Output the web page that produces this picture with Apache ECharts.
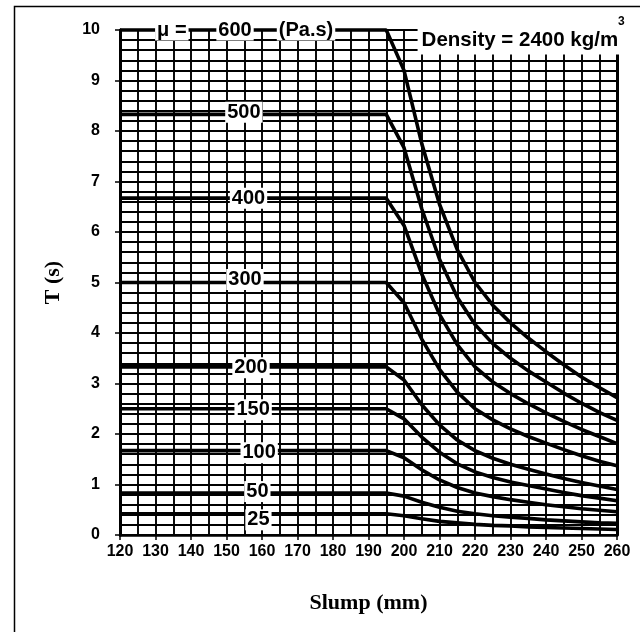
<!DOCTYPE html>
<html>
<head>
<meta charset="utf-8">
<script src="https://cdn.jsdelivr.net/npm/echarts@6/dist/echarts.min.js"></script>
<style>html,body{margin:0;padding:0;background:#fff;}#c{width:640px;height:632px;}</style>
</head>
<body>
<div id="c"></div>
<script>
// Slump (mm) sample points
const slump = [120, 195, 200, 205, 210, 215, 220, 225, 230, 235, 240, 245, 250, 255, 260];
// T (s) for each viscosity mu (Pa.s)
const mu600 = [10, 10, 9.2, 7.75, 6.55, 5.65, 5.0, 4.55, 4.2, 3.9, 3.63, 3.37, 3.13, 2.92, 2.72];
const mu500 = [8.33, 8.33, 7.67, 6.46, 5.46, 4.71, 4.17, 3.79, 3.5, 3.25, 3.03, 2.81, 2.61, 2.43, 2.27];
const mu400 = [6.67, 6.67, 6.13, 5.17, 4.37, 3.77, 3.33, 3.03, 2.8, 2.6, 2.42, 2.25, 2.09, 1.95, 1.81];
const mu300 = [5, 5, 4.6, 3.88, 3.28, 2.83, 2.5, 2.28, 2.1, 1.95, 1.82, 1.69, 1.57, 1.46, 1.37];
const mu200 = [3.33, 3.33, 3.07, 2.58, 2.18, 1.88, 1.67, 1.52, 1.4, 1.3, 1.21, 1.12, 1.04, 0.97, 0.9];
const mu150 = [2.5, 2.5, 2.3, 1.94, 1.64, 1.41, 1.25, 1.14, 1.05, 0.98, 0.91, 0.84, 0.78, 0.73, 0.68];
const mu100 = [1.67, 1.67, 1.53, 1.29, 1.09, 0.94, 0.83, 0.76, 0.7, 0.65, 0.6, 0.56, 0.52, 0.49, 0.46];
const mu50 = [0.83, 0.83, 0.77, 0.65, 0.55, 0.47, 0.42, 0.38, 0.35, 0.33, 0.3, 0.28, 0.26, 0.24, 0.23];
const mu25 = [0.42, 0.42, 0.38, 0.32, 0.27, 0.24, 0.21, 0.19, 0.18, 0.16, 0.15, 0.14, 0.13, 0.12, 0.11];
const curves = [mu600, mu500, mu400, mu300, mu200, mu150, mu100, mu50, mu25];
const curveNames = ['600', '500', '400', '300', '200', '150', '100', '50', '25'];

// Annotation texts and their anchors (data coordinates)
const noteText = ['\u03bc =', '600', '(Pa.s)', '500', '400', '300', '200', '150', '100', '50', '25', 'Density = 2400 kg/m', '3'];
const noteX = [134.6, 152.4, 172.4, 154.9, 156.2, 155.2, 156.9, 157.5, 159.2, 158.7, 159, 233.2, 261.2];
const noteY = [10, 10, 10, 8.37, 6.67, 5.06, 3.31, 2.48, 1.63, 0.86, 0.3, 9.8, 10.16];
const noteKind = ['n', 'n', 'n', 'n', 'n', 'n', 'n', 'n', 'n', 'n', 'n', 'd', 's'];

const xTicks = {min: 120, max: 260, step: 10};
const yTicks = {min: 0, max: 10, step: 1};

const chart = echarts.init(document.getElementById('c'), null, {renderer: 'canvas'});
const gridLine = {color: '#000', width: 1.9};
const sans = 'Liberation Sans, Arial, sans-serif';
const serif = 'Liberation Serif, Times New Roman, serif';

const series = curves.map((vals, k) => ({
  name: curveNames[k],
  type: 'line',
  data: slump.map((x, i) => [x, vals[i]]),
  symbol: 'none',
  lineStyle: {color: '#000', width: 3.6},
  clip: false,
  z: 3,
  silent: true
}));

const noteStyle = {
  n: {font: 'bold 20px ' + sans, backgroundColor: '#fff', padding: [1, 2, 0, 2]},
  d: {font: 'bold 20.5px ' + sans, backgroundColor: '#fff', padding: [5, 8, 3, 4]},
  s: {font: 'bold 12px ' + sans, backgroundColor: null, padding: 0}
};

series.push({
  type: 'custom',
  data: noteText.map((t, i) => [noteX[i], noteY[i], i]),
  clip: false,
  silent: true,
  z: 10,
  renderItem: function (params, api) {
    const i = api.value(2);
    const pt = api.coord([api.value(0), api.value(1)]);
    const st = noteStyle[noteKind[i]];
    return {
      type: 'text', x: pt[0], y: pt[1], z2: 10,
      style: {
        text: noteText[i], fill: '#000', font: st.font, align: 'center', verticalAlign: 'middle',
        backgroundColor: st.backgroundColor, padding: st.padding
      }
    };
  }
});

chart.setOption({
  backgroundColor: '#fff',
  animation: false,
  grid: {left: 120, right: 23, top: 30, bottom: 97, show: true, borderColor: '#000', borderWidth: 2, backgroundColor: 'transparent'},
  xAxis: {
    type: 'value', min: xTicks.min, max: xTicks.max, interval: xTicks.step,
    name: 'Slump (mm)', nameLocation: 'middle', nameGap: 57,
    nameTextStyle: {fontFamily: serif, fontWeight: 'bold', fontSize: 22, color: '#000'},
    axisLine: {lineStyle: {color: '#000', width: 2.5}},
    axisTick: {show: true, length: 5, lineStyle: {color: '#000', width: 1.5}},
    axisLabel: {fontFamily: sans, fontWeight: 'bold', fontSize: 16, color: '#000', margin: 9},
    splitLine: {show: true, lineStyle: gridLine},
    minorTick: {show: false, splitNumber: 2},
    minorSplitLine: {show: true, lineStyle: gridLine}
  },
  yAxis: [{
    type: 'value', min: yTicks.min, max: yTicks.max, interval: yTicks.step,
    name: 'T (s)', nameLocation: 'middle', nameGap: 56, nameRotate: 90,
    nameTextStyle: {fontFamily: serif, fontWeight: 'bold', fontSize: 22, color: '#000'},
    axisLine: {show: true, lineStyle: {color: '#000', width: 3}},
    axisTick: {show: true, length: 5, lineStyle: {color: '#000', width: 1.5}},
    axisLabel: {fontFamily: sans, fontWeight: 'bold', fontSize: 16, color: '#000', margin: 20},
    splitLine: {show: true, lineStyle: gridLine},
    minorTick: {show: false, splitNumber: 5},
    minorSplitLine: {show: true, lineStyle: gridLine}
  }, {
    type: 'value', min: yTicks.min, max: yTicks.max, interval: yTicks.step, position: 'right',
    axisLine: {show: true, lineStyle: {color: '#000', width: 3}},
    axisTick: {show: false}, axisLabel: {show: false}, splitLine: {show: false}
  }],
  graphic: [{
    type: 'rect', left: 12, top: 4, shape: {width: 627, height: 627},
    style: {fill: 'none', stroke: '#000', lineWidth: 1.5}, silent: true, z: -1
  }],
  series: series
});
</script>
</body>
</html>
